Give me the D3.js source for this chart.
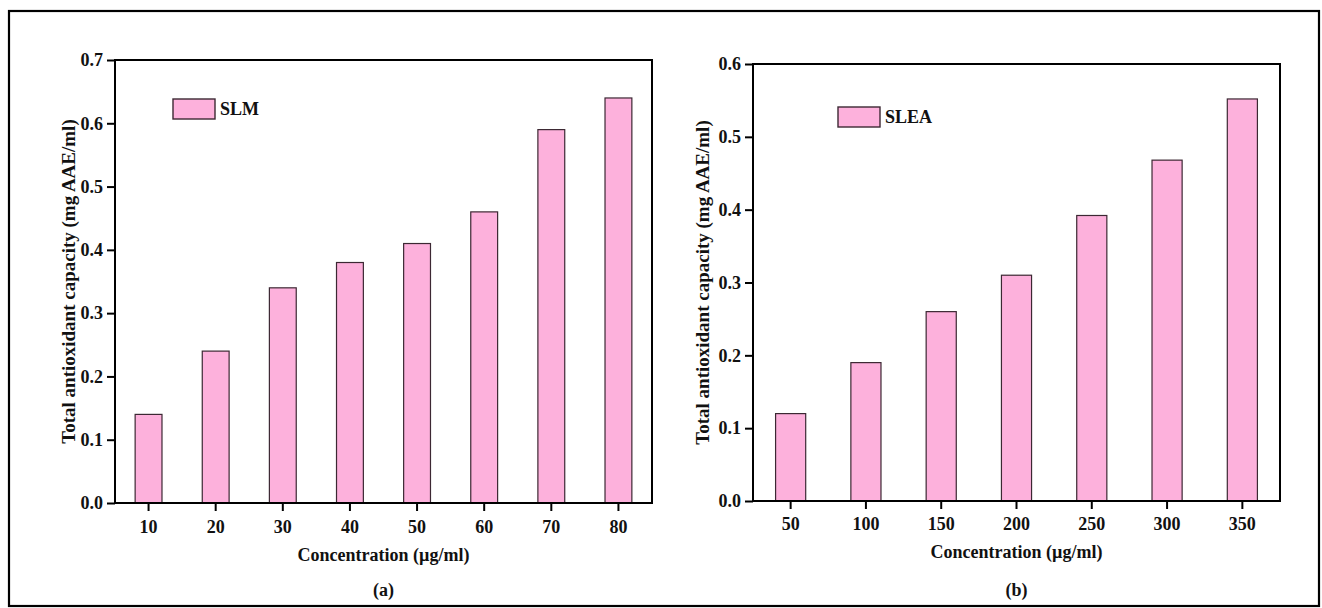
<!DOCTYPE html>
<html>
<head>
<meta charset="utf-8">
<script src="https://cdn.jsdelivr.net/npm/d3@7"></script>
<style>
  body { margin: 0; background: #fff; }
  svg text { font-family: "Liberation Serif", "Times New Roman", serif; font-weight: bold; fill: #111; }
</style>
</head>
<body>
<svg id="chart" width="1322" height="608"></svg>
<script>
// panel (a)
var catsA = ['10', '20', '30', '40', '50', '60', '70', '80'];
var valsA = [0.14, 0.24, 0.34, 0.38, 0.41, 0.46, 0.59, 0.64];
var ticksA = [0, 0.1, 0.2, 0.3, 0.4, 0.5, 0.6, 0.7];
// panel (b)
var catsB = ['50', '100', '150', '200', '250', '300', '350'];
var valsB = [0.12, 0.19, 0.26, 0.31, 0.392, 0.468, 0.552];
var ticksB = [0, 0.1, 0.2, 0.3, 0.4, 0.5, 0.6];

var yTitle = 'Total antioxidant capacity (mg AAE/ml)';
var xTitle = 'Concentration (\u00b5g/ml)';

var svg = d3.select('#chart');
var barFill = '#fdb1dc';
var barStroke = '#3c2833';

svg.append('rect')
    .attr('x', 9).attr('y', 11)
    .attr('width', 1310).attr('height', 595)
    .attr('fill', 'none').attr('stroke', '#000').attr('stroke-width', 2.2);

function drawPanel(p) {
    var x = d3.scaleBand().domain(p.cats).range([p.left, p.right])
        .paddingInner(0.6).paddingOuter(0.3);
    var y = d3.scaleLinear().domain([0, p.ymax]).range([p.bottom, p.top]);
    var g = svg.append('g');

    g.selectAll('.bar').data(p.vals).enter().append('rect')
        .attr('class', 'bar')
        .attr('x', function (d, i) { return x(p.cats[i]); })
        .attr('y', function (d) { return y(d); })
        .attr('width', x.bandwidth())
        .attr('height', function (d) { return y(0) - y(d); })
        .attr('fill', barFill)
        .attr('stroke', barStroke)
        .attr('stroke-width', 1.2);

    // frame
    g.append('rect')
        .attr('x', p.left).attr('y', p.top)
        .attr('width', p.right - p.left).attr('height', p.bottom - p.top)
        .attr('fill', 'none').attr('stroke', '#000').attr('stroke-width', 2);

    var yAxis = g.append('g').attr('transform', 'translate(' + p.left + ',0)')
        .call(d3.axisLeft(y).tickValues(p.ticks).tickFormat(d3.format('.1f')).tickSize(8).tickPadding(4));
    var xAxis = g.append('g').attr('transform', 'translate(0,' + p.bottom + ')')
        .call(d3.axisBottom(x).tickSize(8).tickPadding(p.xPad));
    [yAxis, xAxis].forEach(function (a) {
        a.attr('font-size', null).attr('font-family', null);
        a.select('.domain').remove();
        a.selectAll('line').attr('stroke', '#000').attr('stroke-width', 2);
        a.selectAll('text').attr('fill', '#111')
            .style('font-size', '18px')
            .style('font-family', '"Liberation Serif", "Times New Roman", serif').style('font-weight', 'bold');
    });

    g.append('text')
        .attr('transform', 'translate(' + p.yTitleX + ',' + ((p.top + p.bottom) / 2) + ') rotate(-90)')
        .attr('text-anchor', 'middle').style('font-size', '19px')
        .text(yTitle);
    g.append('text')
        .attr('x', (p.left + p.right) / 2).attr('y', p.xTitleY)
        .attr('text-anchor', 'middle').style('font-size', '18px')
        .text(xTitle);
    g.append('text')
        .attr('x', (p.left + p.right) / 2).attr('y', 596)
        .attr('text-anchor', 'middle').style('font-size', '18px')
        .text(p.tag);

    // legend
    g.append('rect')
        .attr('x', p.legX).attr('y', p.legY)
        .attr('width', 42).attr('height', 20)
        .attr('fill', barFill).attr('stroke', barStroke).attr('stroke-width', 1.4);
    g.append('text')
        .attr('x', p.legX + 47).attr('y', p.legY + 16)
        .style('font-size', '18px')
        .text(p.name);
}

drawPanel({
    cats: catsA, vals: valsA, ticks: ticksA, ymax: 0.7, name: 'SLM', tag: '(a)',
    left: 115, right: 652, top: 60, bottom: 503,
    yTitleX: 75, xTitleY: 561, xPad: 9, legX: 173, legY: 99
});
drawPanel({
    cats: catsB, vals: valsB, ticks: ticksB, ymax: 0.6, name: 'SLEA', tag: '(b)',
    left: 753, right: 1280, top: 64, bottom: 501,
    yTitleX: 709, xTitleY: 558, xPad: 8, legX: 838, legY: 107
});
</script>
</body>
</html>
